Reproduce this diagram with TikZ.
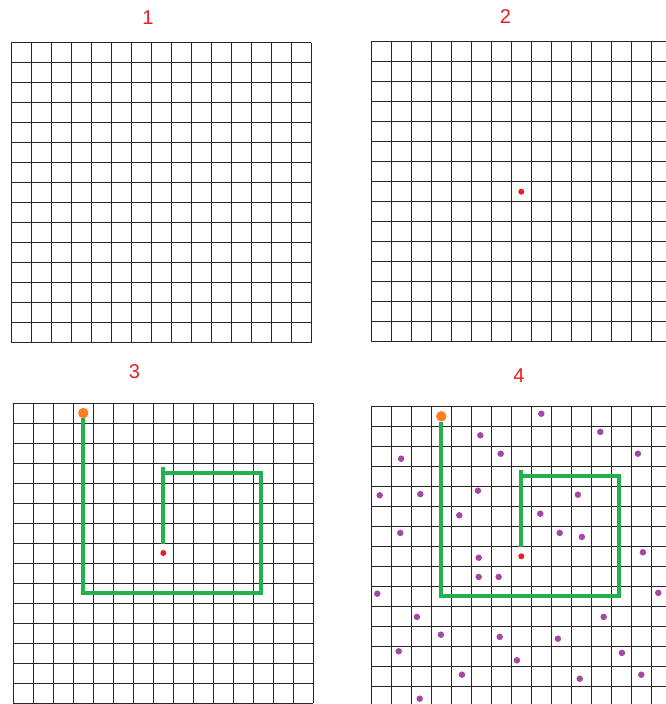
\documentclass[tikz,border=0pt]{standalone}
\usepackage{fontspec}
\setmainfont{Liberation Sans}
\usepackage{tikz}
\definecolor{pathgreen}{HTML}{22B14C}
\definecolor{seedred}{HTML}{ED1C24}
\definecolor{homeorange}{HTML}{FF7F27}
\definecolor{dotpurple}{HTML}{A349A4}

\begin{document}
\begin{tikzpicture}[x=1pt,y=-1pt,
  cell/.style={line width=0.9pt,black!85},
  walk/.style={pathgreen,line width=4pt},
  num/.style={text=seedred,font=\fontsize{20}{22}\selectfont},
  seed/.style={circle,fill=seedred,inner sep=0pt,minimum size=6pt},
  home/.style={circle,fill=homeorange,inner sep=0pt,minimum size=10.5pt},
  item/.style={circle,fill=dotpurple,inner sep=0pt,minimum size=6.5pt}]
\useasboundingbox (0,0) rectangle (666,704);
\clip (0,0) rectangle (666,704);
% four panels: label and 15x15 grid
\foreach \p/\gx/\gy/\lx/\ly in {1/11/42.5/148/18, 2/371.3/41.7/505.5/17, 3/13.3/403/134.5/372, 4/371.3/406.3/519/375.5}{
  \node[num] (lab\p) at (\lx,\ly) {\p};
  \begin{scope}[shift={(\gx pt,-\gy pt)},x=20pt,y=-20pt]
    \foreach \i in {0,...,15}{\draw[cell] (\i,0) -- (\i,15); \draw[cell] (0,\i) -- (15,\i);}
    \ifnum\p>1 \node[seed] (seed\p) at (7.5,7.5) {}; \fi
    \ifnum\p>2
      \node[home] (home\p) at (3.5,0.5) {};
      \draw[walk,shorten <=6pt] (seed\p) -- (7.5,3.2);
      \draw[walk] (7.5,3.5) -- (12.4,3.5) -- (12.4,9.5) -- (3.5,9.5) -- (home\p);
    \fi
  \end{scope}}
% scattered items in panel 4
\begin{scope}[shift={(371.3pt,-406.3pt)},x=20pt,y=-20pt]
\foreach \x/\y [count=\k] in {8.5/0.37, 5.45/1.45, 11.45/1.28, 1.49/2.62, 6.47/2.37, 13.33/2.37,
  0.42/4.45, 2.45/4.39, 5.33/4.22, 10.33/4.42, 4.4/5.45, 8.45/5.37, 1.45/6.33, 9.42/6.33,
  10.53/6.53, 13.58/7.3, 5.37/7.57, 5.37/8.53, 6.37/8.53, 0.3/9.37, 14.35/9.33, 2.28/10.53,
  11.62/10.53, 3.48/11.42, 6.42/11.53, 9.33/11.62, 1.37/12.25, 12.53/12.33, 7.28/12.7,
  4.53/13.42, 10.42/13.62, 13.5/13.42, 2.42/14.62}
  \node[item] (item\k) at (\x,\y) {};
\end{scope}
\end{tikzpicture}
\end{document}
